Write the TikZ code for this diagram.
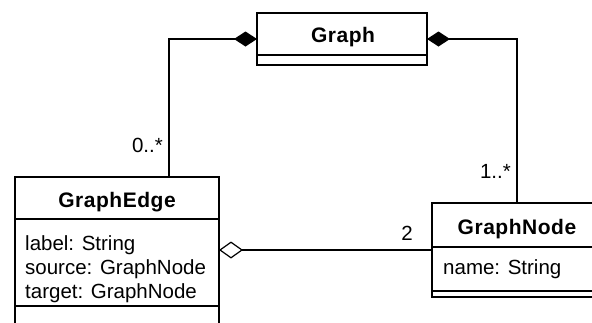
\documentclass[tikz,border=0pt]{standalone}
\usepackage{fontspec}
\setmainfont{Liberation Sans}
\newfontfamily\titlefont[LetterSpace=2.5]{Liberation Sans}
\usetikzlibrary{arrows.meta}
\begin{document}
\begin{tikzpicture}[x=1pt,y=-1pt,
  box/.style={draw=black, line width=2.4pt, inner sep=0pt, outer sep=0pt, rectangle},
  sep/.style={line width=1.2pt},
  conn/.style={line width=1.2pt},
  title/.style={font=\titlefont\fontsize{21}{24}\selectfont\bfseries, anchor=base, inner sep=0pt},
  attr/.style={font=\fontsize{20.5}{24}\selectfont, anchor=base west, inner sep=0pt},
  mult/.style={font=\fontsize{20.5}{24}\selectfont, anchor=base east, inner sep=0pt},
  comp/.style={conn, {Diamond[length=23pt,width=15pt]}-},
  aggr/.style={conn, {Diamond[open,fill=white,length=24pt,width=17pt]}-}
]
\useasboundingbox (0,0) rectangle (592,322);

% boxes
\node[box, minimum width=170pt, minimum height=52pt] (graph) at (342,39) {};
\node[box, minimum width=204pt, minimum height=170pt] (edge) at (117,262) {};
\node[box, minimum width=170pt, minimum height=94pt] (gnode) at (517,250) {};

% compartment separators
\draw[sep] (graph.west |- 0,55) -- (graph.east |- 0,55);
\draw[sep] (edge.west |- 0,219) -- (edge.east |- 0,219);
\draw[sep] (edge.west |- 0,306) -- (edge.east |- 0,306);
\draw[sep] (gnode.west |- 0,247) -- (gnode.east |- 0,247);
\draw[sep] (gnode.west |- 0,291) -- (gnode.east |- 0,291);

% texts
\node[title] (tgraph) at (343,42) {Graph};
\node[title] (tedge) at (117,207) {GraphEdge};
\node[title] (tnode) at (517,234) {GraphNode};
\node[attr] (a1) at (25,250) {label: String};
\node[attr] (a2) at (25,274) {source: GraphNode};
\node[attr] (a3) at (25,298) {target: GraphNode};
\node[attr] (a4) at (443,274) {name: String};

% connectors
\coordinate (etop) at (169,177);
\coordinate (ntop) at (517,203);
\draw[comp] (graph.west) -| (etop);
\draw[comp] (graph.east) -| (ntop);
\draw[aggr] (edge.east |- gnode.west) -- (gnode.west);

% multiplicities
\node[mult] (m1) at (163,152) {0..*};
\node[mult] (m2) at (511,178) {1..*};
\node[mult] (m3) at (413,240) {2};
\end{tikzpicture}
\end{document}
